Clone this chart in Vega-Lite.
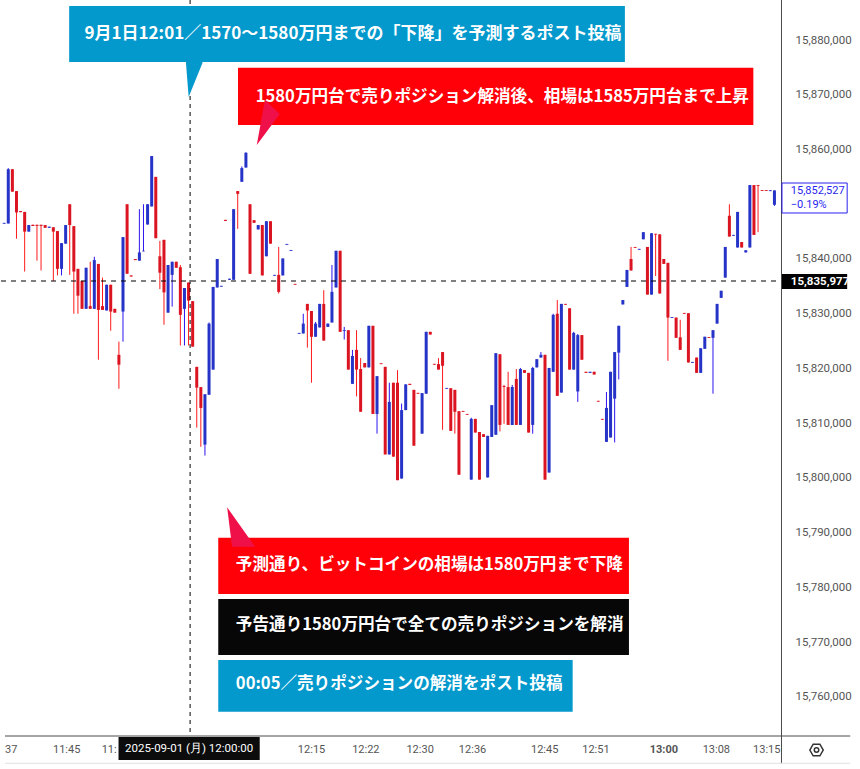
{
"$schema":"https://vega.github.io/schema/vega-lite/v6.json",
"width":786,"height":736,
"autosize":{"type":"none"},
"padding":{"left":0,"top":0,"right":74,"bottom":33},
"background":"white",
"config":{"view":{"stroke":null}},
"datasets":{
"candles":[
{"i":0,"o":15846450,"h":15846600,"l":15846450,"c":15846600},
{"i":1,"o":15846500,"h":15856600,"l":15846500,"c":15856400},
{"i":2,"o":15856400,"h":15856400,"l":15852300,"c":15852300},
{"i":3,"o":15852400,"h":15852400,"l":15843700,"c":15848500},
{"i":4,"o":15848750,"h":15848750,"l":15848550,"c":15848550},
{"i":5,"o":15848600,"h":15848600,"l":15837700,"c":15845000},
{"i":6,"o":15845000,"h":15846200,"l":15845000,"c":15846200},
{"i":7,"o":15846250,"h":15846250,"l":15846050,"c":15846050},
{"i":8,"o":15846250,"h":15846250,"l":15839700,"c":15846050},
{"i":9,"o":15846250,"h":15846250,"l":15837900,"c":15846050},
{"i":10,"o":15846200,"h":15846200,"l":15845700,"c":15845700},
{"i":11,"o":15845700,"h":15845900,"l":15845700,"c":15845900},
{"i":12,"o":15845800,"h":15845800,"l":15836000,"c":15845000},
{"i":13,"o":15845100,"h":15845100,"l":15837000,"c":15838200},
{"i":14,"o":15838200,"h":15842900,"l":15837000,"c":15842900},
{"i":15,"o":15842800,"h":15846200,"l":15842800,"c":15846200},
{"i":16,"o":15850000,"h":15850000,"l":15837100,"c":15846200},
{"i":17,"o":15846000,"h":15846000,"l":15830000,"c":15837700},
{"i":18,"o":15838200,"h":15838200,"l":15830000,"c":15833300},
{"i":19,"o":15836000,"h":15836000,"l":15830900,"c":15830900},
{"i":20,"o":15830900,"h":15838400,"l":15830900,"c":15838400},
{"i":21,"o":15831400,"h":15839500,"l":15830900,"c":15830900},
{"i":22,"o":15830900,"h":15840400,"l":15830900,"c":15839800},
{"i":23,"o":15839100,"h":15839100,"l":15821600,"c":15830700},
{"i":24,"o":15831400,"h":15836600,"l":15830700,"c":15830700},
{"i":25,"o":15830600,"h":15835300,"l":15830600,"c":15835300},
{"i":26,"o":15835300,"h":15835300,"l":15826900,"c":15830400},
{"i":27,"o":15830900,"h":15830900,"l":15830200,"c":15830200},
{"i":28,"o":15822500,"h":15824900,"l":15816300,"c":15820700},
{"i":29,"o":15830400,"h":15844000,"l":15824900,"c":15844000},
{"i":30,"o":15850000,"h":15850000,"l":15837300,"c":15837300},
{"i":31,"o":15837000,"h":15837000,"l":15836800,"c":15836800},
{"i":32,"o":15840000,"h":15840000,"l":15839800,"c":15839800},
{"i":33,"o":15839700,"h":15849100,"l":15839700,"c":15841200},
{"i":34,"o":15841400,"h":15850000,"l":15841400,"c":15841500},
{"i":35,"o":15846300,"h":15850000,"l":15846300,"c":15850000},
{"i":36,"o":15849600,"h":15858800,"l":15849600,"c":15858800},
{"i":37,"o":15855000,"h":15855000,"l":15843800,"c":15843800},
{"i":38,"o":15840500,"h":15843300,"l":15834500,"c":15837500},
{"i":39,"o":15843500,"h":15843500,"l":15828000,"c":15833900},
{"i":40,"o":15830200,"h":15838900,"l":15830200,"c":15838900},
{"i":41,"o":15837100,"h":15839500,"l":15831300,"c":15839500},
{"i":42,"o":15839500,"h":15839500,"l":15838400,"c":15838400},
{"i":43,"o":15838500,"h":15838900,"l":15824200,"c":15829800},
{"i":44,"o":15830900,"h":15834700,"l":15824200,"c":15834700},
{"i":45,"o":15835700,"h":15835700,"l":15824200,"c":15832400},
{"i":46,"o":15832300,"h":15832300,"l":15824000,"c":15824000},
{"i":47,"o":15820300,"h":15820300,"l":15809200,"c":15816500},
{"i":48,"o":15816600,"h":15816600,"l":15805700,"c":15812800},
{"i":49,"o":15806100,"h":15815300,"l":15804100,"c":15815300},
{"i":50,"o":15815200,"h":15828400,"l":15815200,"c":15828200},
{"i":51,"o":15819800,"h":15834900,"l":15819800,"c":15834900},
{"i":52,"o":15834800,"h":15840000,"l":15834800,"c":15840000},
{"i":53,"o":15834950,"h":15835100,"l":15834950,"c":15835100},
{"i":54,"o":15847150,"h":15847150,"l":15846950,"c":15846950},
{"i":55,"o":15836200,"h":15836400,"l":15836200,"c":15836400},
{"i":56,"o":15836200,"h":15849100,"l":15836200,"c":15849100},
{"i":57,"o":15852400,"h":15852400,"l":15845500,"c":15851900},
{"i":58,"o":15854100,"h":15856900,"l":15854100,"c":15856600},
{"i":59,"o":15856700,"h":15859500,"l":15856700,"c":15859400},
{"i":60,"o":15850000,"h":15850000,"l":15837300,"c":15837300},
{"i":61,"o":15847100,"h":15847100,"l":15846600,"c":15846600},
{"i":62,"o":15845400,"h":15846200,"l":15845400,"c":15846200},
{"i":63,"o":15846200,"h":15846200,"l":15837000,"c":15837000},
{"i":64,"o":15840500,"h":15846900,"l":15840500,"c":15846900},
{"i":65,"o":15846900,"h":15846900,"l":15842800,"c":15842800},
{"i":66,"o":15836950,"h":15837100,"l":15836950,"c":15837100},
{"i":67,"o":15837100,"h":15842200,"l":15833700,"c":15834000},
{"i":68,"o":15837000,"h":15840100,"l":15837000,"c":15840100},
{"i":69,"o":15842600,"h":15842750,"l":15842600,"c":15842750},
{"i":70,"o":15841500,"h":15841650,"l":15841500,"c":15841650},
{"i":71,"o":15835450,"h":15835450,"l":15835300,"c":15835300},
{"i":72,"o":15826350,"h":15826500,"l":15826350,"c":15826500},
{"i":73,"o":15826400,"h":15830000,"l":15826400,"c":15828200},
{"i":74,"o":15831800,"h":15831800,"l":15823800,"c":15830600},
{"i":75,"o":15830500,"h":15830500,"l":15817400,"c":15825800},
{"i":76,"o":15825800,"h":15828500,"l":15825800,"c":15828200},
{"i":77,"o":15827500,"h":15831800,"l":15827500,"c":15831800},
{"i":78,"o":15831800,"h":15834300,"l":15825100,"c":15825100},
{"i":79,"o":15827600,"h":15828200,"l":15827600,"c":15828200},
{"i":80,"o":15828400,"h":15838900,"l":15828400,"c":15834000},
{"i":81,"o":15834800,"h":15841500,"l":15834800,"c":15841500},
{"i":82,"o":15841500,"h":15841500,"l":15826700,"c":15826700},
{"i":83,"o":15826850,"h":15827600,"l":15825300,"c":15827000},
{"i":84,"o":15827000,"h":15827000,"l":15819800,"c":15819800},
{"i":85,"o":15817200,"h":15823400,"l":15817200,"c":15822300},
{"i":86,"o":15823400,"h":15827000,"l":15814900,"c":15819800},
{"i":87,"o":15819900,"h":15821900,"l":15812100,"c":15812100},
{"i":88,"o":15821000,"h":15821000,"l":15820200,"c":15820200},
{"i":89,"o":15820200,"h":15827800,"l":15820200,"c":15827800},
{"i":90,"o":15827800,"h":15827800,"l":15811700,"c":15811700},
{"i":91,"o":15811700,"h":15818600,"l":15808100,"c":15818600},
{"i":92,"o":15820950,"h":15820950,"l":15820800,"c":15820800},
{"i":93,"o":15820300,"h":15820300,"l":15804300,"c":15804300},
{"i":94,"o":15804300,"h":15817400,"l":15804300,"c":15813900},
{"i":95,"o":15817400,"h":15817400,"l":15803900,"c":15803900},
{"i":96,"o":15817400,"h":15819700,"l":15799600,"c":15799600},
{"i":97,"o":15799900,"h":15813600,"l":15799900,"c":15812400},
{"i":98,"o":15812400,"h":15817100,"l":15812400,"c":15817100},
{"i":99,"o":15817200,"h":15817200,"l":15817000,"c":15817000},
{"i":100,"o":15816100,"h":15816100,"l":15805900,"c":15805900},
{"i":101,"o":15815550,"h":15815550,"l":15815400,"c":15815400},
{"i":102,"o":15808100,"h":15815500,"l":15808100,"c":15815500},
{"i":103,"o":15815400,"h":15826700,"l":15815400,"c":15826700},
{"i":104,"o":15826700,"h":15826700,"l":15826200,"c":15826200},
{"i":105,"o":15820850,"h":15820850,"l":15820700,"c":15820700},
{"i":106,"o":15820800,"h":15821900,"l":15819800,"c":15819800},
{"i":107,"o":15823000,"h":15823000,"l":15808800,"c":15820500},
{"i":108,"o":15816300,"h":15816450,"l":15816300,"c":15816450},
{"i":109,"o":15816400,"h":15816400,"l":15808600,"c":15808600},
{"i":110,"o":15816100,"h":15816100,"l":15808100,"c":15812100},
{"i":111,"o":15812200,"h":15812200,"l":15800600,"c":15800600},
{"i":112,"o":15812250,"h":15812250,"l":15812100,"c":15812100},
{"i":113,"o":15811700,"h":15811700,"l":15811550,"c":15811550},
{"i":114,"o":15799700,"h":15811000,"l":15799700,"c":15810800},
{"i":115,"o":15810800,"h":15810800,"l":15808300,"c":15808300},
{"i":116,"o":15808400,"h":15808400,"l":15799700,"c":15799700},
{"i":117,"o":15808000,"h":15808000,"l":15807500,"c":15807500},
{"i":118,"o":15800100,"h":15807700,"l":15800100,"c":15807700},
{"i":119,"o":15807500,"h":15813300,"l":15807500,"c":15813300},
{"i":120,"o":15807900,"h":15822800,"l":15807900,"c":15822800},
{"i":121,"o":15822600,"h":15822600,"l":15808500,"c":15809700},
{"i":122,"o":15816800,"h":15817000,"l":15809900,"c":15816650},
{"i":123,"o":15816600,"h":15819400,"l":15809700,"c":15809700},
{"i":124,"o":15809700,"h":15817000,"l":15809700,"c":15816600},
{"i":125,"o":15818100,"h":15819900,"l":15809700,"c":15809700},
{"i":126,"o":15809700,"h":15820100,"l":15809700,"c":15819900},
{"i":127,"o":15819700,"h":15819700,"l":15819200,"c":15819200},
{"i":128,"o":15819200,"h":15819200,"l":15808300,"c":15808300},
{"i":129,"o":15809700,"h":15820300,"l":15808100,"c":15820100},
{"i":130,"o":15820200,"h":15821700,"l":15820200,"c":15821700},
{"i":131,"o":15822000,"h":15823000,"l":15822000,"c":15822500},
{"i":132,"o":15822500,"h":15822500,"l":15799700,"c":15799700},
{"i":133,"o":15801000,"h":15820100,"l":15801000,"c":15820100},
{"i":134,"o":15819400,"h":15830000,"l":15819400,"c":15829800},
{"i":135,"o":15830000,"h":15832500,"l":15815000,"c":15815000},
{"i":136,"o":15815600,"h":15831800,"l":15815600,"c":15831800},
{"i":137,"o":15831800,"h":15831800,"l":15831650,"c":15831650},
{"i":138,"o":15831000,"h":15831000,"l":15819800,"c":15819800},
{"i":139,"o":15819800,"h":15826700,"l":15819800,"c":15826500},
{"i":140,"o":15815800,"h":15826300,"l":15813900,"c":15826100},
{"i":141,"o":15826100,"h":15826100,"l":15821600,"c":15821600},
{"i":142,"o":15819400,"h":15819400,"l":15819200,"c":15819200},
{"i":143,"o":15819200,"h":15819400,"l":15819200,"c":15819400},
{"i":144,"o":15819400,"h":15819400,"l":15818900,"c":15818900},
{"i":145,"o":15814100,"h":15814100,"l":15813950,"c":15813950},
{"i":146,"o":15810800,"h":15810800,"l":15810650,"c":15810650},
{"i":147,"o":15806600,"h":15815700,"l":15806600,"c":15812800},
{"i":148,"o":15807400,"h":15819400,"l":15807400,"c":15819400},
{"i":149,"o":15814500,"h":15823000,"l":15806500,"c":15823000},
{"i":150,"o":15822900,"h":15827800,"l":15818000,"c":15827800},
{"i":151,"o":15831700,"h":15832500,"l":15831700,"c":15832500},
{"i":152,"o":15834900,"h":15838000,"l":15834900,"c":15838000},
{"i":153,"o":15840000,"h":15842200,"l":15837900,"c":15837900},
{"i":154,"o":15842200,"h":15842200,"l":15842050,"c":15842050},
{"i":155,"o":15841700,"h":15841850,"l":15841700,"c":15841850},
{"i":156,"o":15843600,"h":15844900,"l":15843600,"c":15844900},
{"i":157,"o":15842200,"h":15842200,"l":15833500,"c":15833500},
{"i":158,"o":15833500,"h":15844700,"l":15833500,"c":15844700},
{"i":159,"o":15844600,"h":15844600,"l":15836900,"c":15844450},
{"i":160,"o":15844500,"h":15844500,"l":15833700,"c":15833700},
{"i":161,"o":15840000,"h":15840000,"l":15839100,"c":15839100},
{"i":162,"o":15839300,"h":15839300,"l":15821400,"c":15829300},
{"i":163,"o":15829250,"h":15829400,"l":15829250,"c":15829400},
{"i":164,"o":15829300,"h":15829300,"l":15825600,"c":15825600},
{"i":165,"o":15825700,"h":15828900,"l":15823400,"c":15823400},
{"i":166,"o":15830150,"h":15830150,"l":15830000,"c":15830000},
{"i":167,"o":15830100,"h":15830100,"l":15821100,"c":15821100},
{"i":168,"o":15821050,"h":15821200,"l":15821050,"c":15821200},
{"i":169,"o":15822000,"h":15822000,"l":15819200,"c":15819200},
{"i":170,"o":15819200,"h":15823700,"l":15819200,"c":15823700},
{"i":171,"o":15823600,"h":15825800,"l":15823600,"c":15825800},
{"i":172,"o":15825750,"h":15825750,"l":15825600,"c":15825600},
{"i":173,"o":15825600,"h":15827000,"l":15815400,"c":15827000},
{"i":174,"o":15828200,"h":15831800,"l":15828200,"c":15831800},
{"i":175,"o":15832900,"h":15834200,"l":15832900,"c":15834200},
{"i":176,"o":15836600,"h":15842200,"l":15836600,"c":15842200},
{"i":177,"o":15847900,"h":15850000,"l":15844100,"c":15844100},
{"i":178,"o":15844250,"h":15844400,"l":15844250,"c":15844400},
{"i":179,"o":15842100,"h":15848600,"l":15842100,"c":15848600},
{"i":180,"o":15843100,"h":15843100,"l":15842100,"c":15842100},
{"i":181,"o":15841200,"h":15841600,"l":15841200,"c":15841600},
{"i":182,"o":15842100,"h":15853500,"l":15842100,"c":15853500},
{"i":183,"o":15853500,"h":15853500,"l":15844400,"c":15844400},
{"i":184,"o":15853500,"h":15853500,"l":15844900,"c":15853350},
{"i":185,"o":15852600,"h":15852600,"l":15852450,"c":15852450},
{"i":186,"o":15852600,"h":15852600,"l":15852450,"c":15852450},
{"i":187,"o":15852400,"h":15852550,"l":15852400,"c":15852550},
{"i":188,"o":15849900,"h":15852527,"l":15849700,"c":15852527}
]},
"layer":[
{"data":{"name":"candles"},
 "mark":{"type":"rule","strokeWidth":1},
 "encoding":{
  "x":{"field":"i","type":"quantitative","title":null,"scale":{"domain":[0.2,189.6],"nice":false,"zero":false},
   "axis":{"values":[15.14,25.5,74.9,88.15,101.4,114.2,131.8,144.3,160.9,173.7,186.0],
    "labelExpr":"datum.value < 20 ? '11:45' : datum.value < 30 ? '11:' : datum.value < 80 ? '12:15' : datum.value < 95 ? '12:22' : datum.value < 105 ? '12:30' : datum.value < 120 ? '12:36' : datum.value < 135 ? '12:45' : datum.value < 150 ? '12:51' : datum.value < 165 ? '13:00' : datum.value < 180 ? '13:08' : '13:15'",
    "grid":false,"ticks":false,"tickSize":0,"domain":false,"labelPadding":7,"labelFontSize":11,"labelColor":"#555555","labelFont":"Roboto","labelFlush":false,"labelOverlap":false,"labelBound":false,
    "labelFontWeight":{"condition":{"test":"datum.value > 155 && datum.value < 165","value":"bold"},"value":"normal"}}},
  "y":{"field":"l","type":"quantitative","title":null,"scale":{"domain":[15752876,15887306],"nice":false,"zero":false},
   "axis":{"orient":"right","values":[15760000,15770000,15780000,15790000,15800000,15810000,15820000,15830000,15840000,15860000,15870000,15880000],
    "format":",d","grid":false,"ticks":false,"tickSize":0,"domain":false,"labelPadding":9,"labelFontSize":11.5,"labelColor":"#555555","labelFont":"Roboto","labelFlush":false,"labelOverlap":false,"labelBound":false}},
  "y2":{"field":"h"},
  "color":{"condition":{"test":"datum.c >= datum.o","value":"#2d14f0"},"value":"#ff1a1a"}
 }},
{"data":{"name":"candles"},
 "mark":{"type":"bar","width":3},
 "encoding":{
  "x":{"field":"i","type":"quantitative","title":null},
  "y":{"field":"o","type":"quantitative","title":null},
  "y2":{"field":"c"},
  "color":{"condition":{"test":"datum.c >= datum.o","value":"#2533c6"},"value":"#da1420"}
 }},
{"data":{"values":[{}]},
 "mark":{"type":"rule","color":"#000000","strokeWidth":1.2,"strokeDash":[5,5]},
 "encoding":{"y":{"datum":15835977,"type":"quantitative"}}},
{"data":{"values":[{}]},
 "mark":{"type":"rule","color":"#000000","strokeWidth":1,"strokeDash":[4,4]},
 "encoding":{"x":{"datum":45.38,"type":"quantitative"}}},
{"data":{"values":[{"x1":15.86,"x2":151.5,"y1":15886210,"y2":15875982}]},
 "mark":{"type":"rect","fill":"#0399cc"},
 "encoding":{"x":{"field":"x1","type":"quantitative","title":null},"x2":{"field":"x2"},"y":{"field":"y1","type":"quantitative","title":null},"y2":{"field":"y2"}}},
{"data":{"values":[{"x":44.37,"y":15876500,"y2":15875800},{"x":45.02,"y":15876500,"y2":15869589},{"x":48.39,"y":15876500,"y2":15875800}]},
 "mark":{"type":"area","fill":"#0399cc","orient":"vertical"},
 "encoding":{"x":{"field":"x","type":"quantitative","title":null},"y":{"field":"y","type":"quantitative","title":null},"y2":{"field":"y2"}}},
{"data":{"values":[{"x1":57.07,"x2":182.85,"y1":15874941,"y2":15864475}]},
 "mark":{"type":"rect","fill":"#ff0008"},
 "encoding":{"x":{"field":"x1","type":"quantitative","title":null},"x2":{"field":"x2"},"y":{"field":"y1","type":"quantitative","title":null},"y2":{"field":"y2"}}},
{"data":{"values":[{"x":61.65,"y":15860822,"y2":15860822},{"x":63.65,"y":15869041,"y2":15862838},{"x":67.27,"y":15866484,"y2":15866484}]},
 "mark":{"type":"area","fill":"#ef1049","orient":"vertical"},
 "encoding":{"x":{"field":"x","type":"quantitative","title":null},"y":{"field":"y","type":"quantitative","title":null},"y2":{"field":"y2"}}},
{"data":{"values":[{"x1":52.25,"x2":152.49,"y1":15789095,"y2":15778812}]},
 "mark":{"type":"rect","fill":"#ff0008"},
 "encoding":{"x":{"field":"x1","type":"quantitative","title":null},"x2":{"field":"x2"},"y":{"field":"y1","type":"quantitative","title":null},"y2":{"field":"y2"}}},
{"data":{"values":[{"x":54.42,"y":15794647,"y2":15794647},{"x":55.62,"y":15793380,"y2":15787450},{"x":61.24,"y":15787450,"y2":15787450}]},
 "mark":{"type":"area","fill":"#ef1049","orient":"vertical"},
 "encoding":{"x":{"field":"x","type":"quantitative","title":null},"y":{"field":"y","type":"quantitative","title":null},"y2":{"field":"y2"}}},
{"data":{"values":[{"x1":52.25,"x2":152.49,"y1":15777899,"y2":15767671}]},
 "mark":{"type":"rect","fill":"#070707"},
 "encoding":{"x":{"field":"x1","type":"quantitative","title":null},"x2":{"field":"x2"},"y":{"field":"y1","type":"quantitative","title":null},"y2":{"field":"y2"}}},
{"data":{"values":[{"x1":52.25,"x2":138.75,"y1":15766757,"y2":15757315}]},
 "mark":{"type":"rect","fill":"#0399cc"},
 "encoding":{"x":{"field":"x1","type":"quantitative","title":null},"x2":{"field":"x2"},"y":{"field":"y1","type":"quantitative","title":null},"y2":{"field":"y2"}}},
{"data":{"values":[
  {"x":19.6,"y":15881187,"t":"9月1日12:01／1570〜1580万円までの「下降」を予測するポスト投稿"}]},
 "mark":{"type":"text","align":"left","baseline":"middle","color":"#ffffff","font":"Noto Sans CJK JP","fontWeight":"bold","fontSize":17},
 "encoding":{"x":{"field":"x","type":"quantitative","title":null},"y":{"field":"y","type":"quantitative","title":null},"text":{"field":"t"}}},
{"data":{"values":[
  {"x":61.4,"y":15869680,"t":"1580万円台で売りポジション解消後、相場は1585万円台まで上昇"},
  {"x":56.55,"y":15784018,"t":"予測通り、ビットコインの相場は1580万円まで下降"},
  {"x":56.55,"y":15773150,"t":"予告通り1580万円台で全ての売りポジションを解消"},
  {"x":56.55,"y":15762465,"t":"00:05／売りポジションの解消をポスト投稿"}]},
 "mark":{"type":"text","align":"left","baseline":"middle","color":"#ffffff","font":"Noto Sans CJK JP","fontWeight":"bold","fontSize":16.6},
 "encoding":{"x":{"field":"x","type":"quantitative","title":null},"y":{"field":"y","type":"quantitative","title":null},"text":{"field":"t"}}},
{"data":{"values":[{}]},
 "mark":{"type":"rule","color":"#4a4a4a","strokeWidth":1},
 "encoding":{"x":{"datum":189.72,"type":"quantitative"},"y":{"datum":15887306,"type":"quantitative"},"y2":{"datum":15747893}}},
{"data":{"values":[{}]},
 "mark":{"type":"rule","color":"#4a4a4a","strokeWidth":1},
 "encoding":{"y":{"datum":15752876,"type":"quantitative"},"x":{"datum":0.2,"type":"quantitative"},"x2":{"datum":206.5}}},
{"data":{"values":[{}]},
 "mark":{"type":"rule","color":"#e0e0e0","strokeWidth":1},
 "encoding":{"y":{"datum":15747893,"type":"quantitative"},"x":{"datum":0.2,"type":"quantitative"},"x2":{"datum":206.5}}},
{"data":{"values":[{"x1":27.91,"x2":62.37,"y1":15752694,"y2":15748493}]},
 "mark":{"type":"rect","fill":"#0c0c0c"},
 "encoding":{"x":{"field":"x1","type":"quantitative","title":null},"x2":{"field":"x2"},"y":{"field":"y1","type":"quantitative","title":null},"y2":{"field":"y2"}}},
{"data":{"values":[{"x":45.14,"y":15750500,"t":"2025-09-01 (月)  12:00:00"}]},
 "mark":{"type":"text","align":"center","baseline":"middle","color":"#ffffff","font":"Roboto","fontSize":11.5},
 "encoding":{"x":{"field":"x","type":"quantitative","title":null},"y":{"field":"y","type":"quantitative","title":null},"text":{"field":"t"}}},
{"data":{"values":[{"x":0.2,"y":15750318,"t":"37"}]},
 "mark":{"type":"text","align":"left","baseline":"middle","color":"#555555","font":"Roboto","fontSize":11},
 "encoding":{"x":{"field":"x","type":"quantitative","title":null},"y":{"field":"y","type":"quantitative","title":null},"text":{"field":"t"}}},
{"data":{"values":[{"x1":189.84,"x2":205.75,"y1":15853881,"y2":15848402}]},
 "mark":{"type":"rect","fill":"#ffffff","stroke":"#2a1ff0","strokeWidth":1},
 "encoding":{"x":{"field":"x1","type":"quantitative","title":null},"x2":{"field":"x2"},"y":{"field":"y1","type":"quantitative","title":null},"y2":{"field":"y2"}}},
{"data":{"values":[{"x":192.0,"y":15852420,"t":"15,852,527"},{"x":192.0,"y":15849950,"t":"−0.19%"}]},
 "mark":{"type":"text","align":"left","baseline":"middle","color":"#2a1ff0","font":"Roboto","fontSize":11},
 "encoding":{"x":{"field":"x","type":"quantitative","title":null},"y":{"field":"y","type":"quantitative","title":null},"text":{"field":"t"}}},
{"data":{"values":[{"x1":189.84,"x2":205.75,"y1":15837260,"y2":15834520}]},
 "mark":{"type":"rect","fill":"#000000"},
 "encoding":{"x":{"field":"x1","type":"quantitative","title":null},"x2":{"field":"x2"},"y":{"field":"y1","type":"quantitative","title":null},"y2":{"field":"y2"}}},
{"data":{"values":[{"x":192.0,"y":15835889,"t":"15,835,977"}]},
 "mark":{"type":"text","align":"left","baseline":"middle","color":"#ffffff","font":"Roboto","fontWeight":"bold","fontSize":11.5},
 "encoding":{"x":{"field":"x","type":"quantitative","title":null},"y":{"field":"y","type":"quantitative","title":null},"text":{"field":"t"}}},
{"data":{"values":[{"x":198.27,"y":15750318}]},
 "mark":{"type":"point","shape":"M-1,0L-0.5,-0.866L0.5,-0.866L1,0L0.5,0.866L-0.5,0.866Z","size":180,"stroke":"#333333","strokeWidth":1.5,"filled":false,"opacity":1},
 "encoding":{"x":{"field":"x","type":"quantitative","title":null},"y":{"field":"y","type":"quantitative","title":null}}},
{"data":{"values":[{"x":198.27,"y":15750318}]},
 "mark":{"type":"point","shape":"circle","size":20,"stroke":"#333333","strokeWidth":1.5,"filled":false,"opacity":1},
 "encoding":{"x":{"field":"x","type":"quantitative","title":null},"y":{"field":"y","type":"quantitative","title":null}}}
]
}
